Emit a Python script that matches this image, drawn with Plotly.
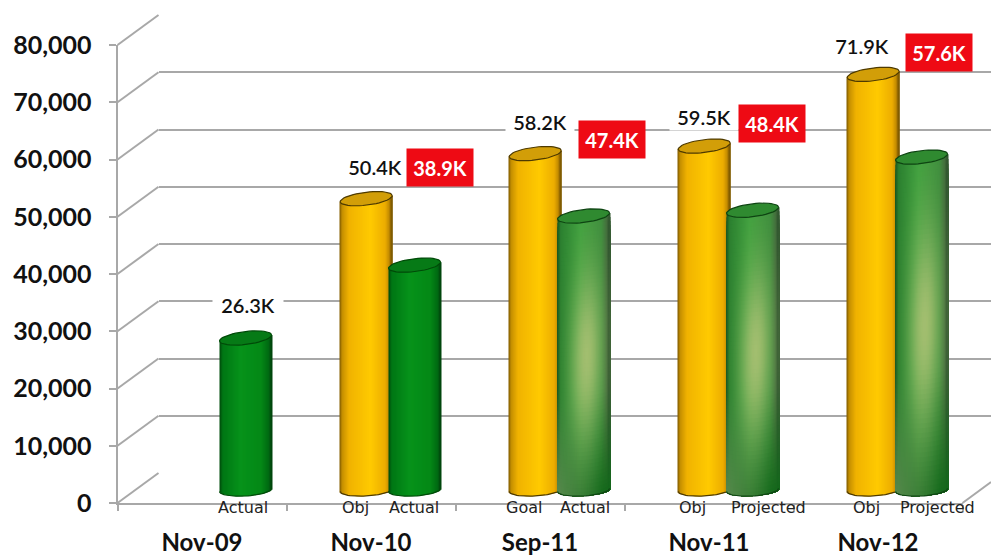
import math
import plotly.graph_objects as go

# ---------- data ----------
categories = ["Nov-09", "Nov-10", "Sep-11", "Nov-11", "Nov-12"]
y_ticks = [0, 10000, 20000, 30000, 40000, 50000, 60000, 70000, 80000]
target_values = [None, 50400, 58200, 59500, 71900]
actual_values = [26300, 38900, 47400, 48400, 57600]
target_names = [None, "Obj", "Goal", "Obj", "Obj"]
actual_names = ["Actual", "Actual", "Actual", "Projected", "Projected"]
target_text = [None, "50.4K", "58.2K", "59.5K", "71.9K"]
actual_text = ["26.3K", "38.9K", "47.4K", "48.4K", "57.6K"]
actual_style = ["solid", "solid", "glossy", "glossy", "glossy"]

# ---------- geometry (pixels) ----------
W, H = 991, 558
X0, CAT = 117.5, 169.0
Y0, Y80 = 503.0, 45.0
PX_PER = (Y0 - Y80) / 80000
BAR_PX_PER = 0.00578
DX_BACK, DY_BACK = 41, 30
BAR_BASE_Y = 490.0
BAR_W = 52.0
TARGET_OFF, ACTUAL_OFF = 0.318, 0.604
GRID = "#a8a8a8"


def fx(p):
    return p / W


def fy(p):
    return 1 - p / H


def mix(a, b, t):
    t = max(0.0, min(1.0, t))
    return tuple(a[i] + (b[i] - a[i]) * t for i in range(3))


def css(c):
    return "rgb(%d,%d,%d)" % tuple(round(v) for v in c)


def profile(stops, t):
    for (t0, c0), (t1, c1) in zip(stops, stops[1:]):
        if t <= t1:
            return mix(c0, c1, (t - t0) / (t1 - t0))
    return stops[-1][1]


YELLOW = [(0, (120, 85, 0)), (0.05, (196, 142, 0)), (0.18, (240, 178, 0)),
          (0.6, (255, 202, 0)), (0.88, (236, 172, 0)), (0.96, (190, 135, 0)), (1, (110, 78, 0))]
SOLID = [(0, (0, 70, 10)), (0.06, (0, 118, 20)), (0.4, (6, 146, 26)),
         (0.8, (4, 136, 22)), (0.95, (0, 104, 18)), (1, (0, 62, 10))]


def glossy(t, s):
    base = profile([(0, (24, 84, 30)), (0.07, (44, 128, 48)), (0.45, (62, 160, 62)),
                    (0.85, (60, 140, 60)), (0.95, (66, 110, 60)), (1, (44, 80, 44))], t)
    # lower part turns grey-green on the left and deep green on the right
    low = mix((92, 138, 80), (18, 104, 26), t * 1.15)
    c = mix(base, low, (s - 0.62) / 0.38)
    spot = math.exp(-(((t - (0.62 - 0.1 * s)) / 0.3) ** 2) - ((s - 0.48) / 0.3) ** 2)
    return mix(c, (162, 190, 112), spot)


def cylinder(i, value, offset, xa, ya, kind):
    """Build a cylinder from pixel-wide bars plus a top ellipse and a base outline."""
    left = offset
    n_cols = int(BAR_W)
    n_rows = 70 if kind == "glossy" else 1
    xs, ys, bases, widths, offs, cols = [], [], [], [], [], []
    col_w = 1.0 / CAT
    a_top, b_top, a_bot, b_bot = 3.0, 6.5, 1.5, 6.0
    for c in range(n_cols):
        t = (c + 0.5) / n_cols
        u = 2 * t - 1
        top = value + a_top * u / BAR_PX_PER
        bottom = (a_bot * u - b_bot * math.sqrt(1 - u * u)) / BAR_PX_PER
        for r in range(n_rows):
            s = r / n_rows
            if kind == "yellow":
                col = profile(YELLOW, t)
            elif kind == "solid":
                col = profile(SOLID, t)
            else:
                col = glossy(t, s)
            xs.append(i)
            bases.append(bottom)
            ys.append(top - (top - bottom) * s - bottom)
            widths.append(col_w * 1.6)
            offs.append(left + c * col_w)
            cols.append(css(col))
    traces = [go.Bar(x=xs, y=ys, base=bases, width=widths, offset=offs,
                     marker=dict(color=cols, line=dict(width=0)),
                     xaxis=xa, yaxis=ya, hoverinfo="skip", showlegend=False)]
    # top cap
    ang = [k / 48 * 2 * math.pi for k in range(49)]
    ex = [i + left + (BAR_W / CAT) * (0.5 + 0.5 * math.cos(q)) for q in ang]
    ey = [value + (a_top * math.cos(q) + b_top * math.sin(q)) / BAR_PX_PER for q in ang]
    fill = {"yellow": "#d29e08", "solid": "#067a16", "glossy": "#2f8a30"}[kind]
    edge = {"yellow": "#4e3a00", "solid": "#004a08", "glossy": "#0e4412"}[kind]
    traces.append(go.Scatter(x=ex, y=ey, mode="lines", fill="toself", fillcolor=fill,
                             line=dict(color=edge, width=1.2), xaxis=xa, yaxis=ya,
                             hoverinfo="skip", showlegend=False))
    # base outline
    ang2 = [math.pi + k / 32 * math.pi for k in range(33)]
    bx = [i + left + (BAR_W / CAT) * (0.5 + 0.5 * math.cos(q)) for q in ang2]
    by = [(a_bot * math.cos(q) + b_bot * math.sin(q)) / BAR_PX_PER for q in ang2]
    traces.append(go.Scatter(x=bx, y=by, mode="lines", line=dict(color=edge, width=1.2),
                             xaxis=xa, yaxis=ya, hoverinfo="skip", showlegend=False))
    return traces


fig = go.Figure()

# invisible trace so the back-wall subplot exists
fig.add_trace(go.Scatter(x=[0], y=[0], mode="markers", marker=dict(opacity=0),
                         xaxis="x", yaxis="y", hoverinfo="skip", showlegend=False))
# front axis subplot
fig.add_trace(go.Scatter(x=[0], y=[0], mode="markers", marker=dict(opacity=0),
                         xaxis="x2", yaxis="y2", hoverinfo="skip", showlegend=False))

for i, v in enumerate(target_values):
    if v is not None:
        fig.add_traces(cylinder(i, v, TARGET_OFF, "x3", "y3", "yellow"))
for i, v in enumerate(actual_values):
    fig.add_traces(cylinder(i, v, ACTUAL_OFF, "x4", "y4", actual_style[i]))

# wall connectors
shapes = []
for v in y_ticks:
    yp = Y0 - v * PX_PER
    shapes.append(dict(type="line", xref="paper", yref="paper", layer="below",
                       x0=fx(X0), y0=fy(yp), x1=fx(X0 + DX_BACK), y1=fy(yp - DY_BACK),
                       line=dict(color=GRID, width=2)))
shapes.append(dict(type="line", xref="paper", yref="paper", layer="below",
                   x0=fx(X0 + 5 * CAT), y0=fy(Y0), x1=fx(991), y1=fy(Y0 - 21),
                   line=dict(color=GRID, width=2)))

# labels
annotations = []


def note(text, x, y, size=18, color="#111111", bold=False, bg=None, font="Lato", w=None, h=None, weight=None):
    f = dict(family=font, size=size, color=color)
    if weight:
        f["weight"] = weight
    a = dict(text="<b>%s</b>" % text if bold else text, x=fx(x), y=fy(y), xref="paper", yref="paper",
             showarrow=False, xanchor="center", yanchor="middle", font=f)
    if bg:
        a["bgcolor"] = bg
    if w:
        a["width"] = w
    if h:
        a["height"] = h
        a["valign"] = "middle"
    annotations.append(a)


# plain value labels (first series), red badges (second series)
plain_pos = {1: (375, 167), 2: (540, 122), 3: (704, 117), 4: (862, 46)}
badge_pos = {1: (440, 168), 2: (612, 140), 3: (772, 123), 4: (939, 53)}
note(actual_text[0], 248, 305, size=20, bg="white", w=68, weight=600)
for i in range(1, 5):
    note(target_text[i], *plain_pos[i], size=20, bg="white", w=66, weight=600)
    note(actual_text[i], *badge_pos[i], size=20, color="white", bold=True, bg="#ee0a14", w=64, h=35)

target_label_x = {1: 355, 2: 524, 3: 692, 4: 866}
actual_label_x = [243, 414, 585, 768, 937]
for i in range(1, 5):
    note(target_names[i], target_label_x[i], 507, size=16, font="DejaVu Sans", color="#222222")
for i, name in enumerate(actual_names):
    note(name, actual_label_x[i], 507, size=16, font="DejaVu Sans", color="#222222")

bar_bottom_px = 515.0
bar_top_px = 15.0
bar_range = [-(bar_bottom_px - BAR_BASE_Y) / BAR_PX_PER, (BAR_BASE_Y - bar_top_px) / BAR_PX_PER]
front_dom = [fx(X0), fx(X0 + 5 * CAT)]
hidden = dict(visible=False, showgrid=False, zeroline=False, automargin=False)

fig.update_layout(
    width=W, height=H, margin=dict(l=0, r=0, t=0, b=0, autoexpand=False),
    paper_bgcolor="white", plot_bgcolor="rgba(0,0,0,0)",
    barmode="overlay", showlegend=False, shapes=shapes, annotations=annotations,
    # back wall
    xaxis=dict(domain=[fx(X0 + DX_BACK), 1], range=[0, 1], anchor="y", **hidden),
    yaxis=dict(domain=[fy(Y0 - DY_BACK), fy(Y80 - DY_BACK)], range=[0, 80000], anchor="x",
               visible=True, showgrid=True, gridcolor=GRID, gridwidth=2, zeroline=False,
               tickvals=y_ticks, showticklabels=False, ticks="", showline=False, automargin=False),
    # front axes
    xaxis2=dict(domain=front_dom, range=[0, 5], anchor="y2", tickvals=[k + 0.5 for k in range(5)],
                ticktext=categories, ticks="", showgrid=False, zeroline=False, showline=True,
                linecolor=GRID, linewidth=2, ticklabelstandoff=17, automargin=False,
                tickfont=dict(family="Lato", size=24, color="#111111", weight="bold"),
                minor=dict(tickvals=list(range(6)), ticks="outside", ticklen=6,
                           tickcolor=GRID, tickwidth=2, showgrid=False)),
    yaxis2=dict(domain=[fy(Y0), fy(Y80)], range=[0, 80000], anchor="x2", tickvals=y_ticks,
                tickformat=",d", ticks="outside", ticklen=7, tickcolor=GRID, tickwidth=2,
                showgrid=False, zeroline=False, showline=True, linecolor=GRID, linewidth=2,
                ticklabelstandoff=12, automargin=False,
                tickfont=dict(family="Lato", size=25, color="#111111", weight="bold")),
    # cylinders
    xaxis3=dict(domain=front_dom, range=[0, 5], anchor="y3", **hidden),
    yaxis3=dict(domain=[fy(bar_bottom_px), fy(bar_top_px)], range=bar_range, anchor="x3", **hidden),
    xaxis4=dict(domain=front_dom, range=[0, 5], anchor="y4", **hidden),
    yaxis4=dict(domain=[fy(bar_bottom_px), fy(bar_top_px)], range=bar_range, anchor="x4", **hidden),
)

fig.write_html("out.html", config=dict(displayModeBar=False),
               post_script="document.body.style.margin='0';document.body.style.overflow='hidden';")
